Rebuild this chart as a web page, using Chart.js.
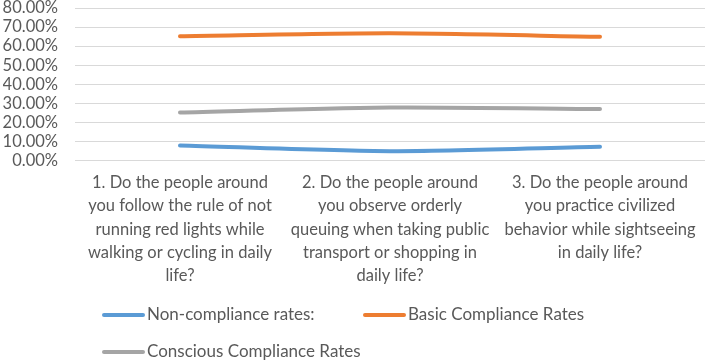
<!DOCTYPE html>
<html>
<head>
<meta charset="utf-8">
<script src="https://cdn.jsdelivr.net/npm/chart.js@4"></script>
<style>
  body { margin: 0; background: #fff; }
  #wrap { width: 709px; height: 362px; position: relative; }
</style>
</head>
<body>
<div id="wrap"><canvas id="chart"></canvas></div>
<script>
// Category labels, one line per array entry
const categories = [
    ["1. Do the people around", "you follow the rule of not", "running red lights while", "walking or cycling in daily", "life?"],
    ["2. Do the people around", "you observe orderly", "queuing when taking public", "transport or shopping in", "daily life?"],
    ["3. Do the people around", "you practice civilized", "behavior while sightseeing", "in daily life?"]
];

// Series values (percent)
const seriesNames = ["Non-compliance rates:", "Basic Compliance Rates", "Conscious Compliance Rates"];
const nonCompliance = [7.9, 4.9, 7.2];
const basicCompliance = [65.2, 66.7, 64.9];
const consciousCompliance = [25.2, 27.8, 27.0];

// Y axis ticks
const yTicks = [0, 10, 20, 30, 40, 50, 60, 70, 80];

const textColor = "#595959";
const fontFamily = "Lato, 'Open Sans', sans-serif";

// Draws the legend in two rows like the original spreadsheet chart
const legendPlugin = {
    id: "sheetLegend",
    afterDraw(chart) {
        const ctx = chart.ctx;
        const slots = [[102, 315], [363, 315], [102, 352]];
        ctx.save();
        ctx.font = "17px " + fontFamily;
        ctx.textBaseline = "middle";
        chart.data.datasets.forEach(function (ds, i) {
            const x = slots[i][0];
            const y = slots[i][1];
            ctx.strokeStyle = ds.borderColor;
            ctx.lineWidth = 4;
            ctx.lineCap = "round";
            ctx.beginPath();
            ctx.moveTo(x + 2, y);
            ctx.lineTo(x + 41, y);
            ctx.stroke();
            ctx.fillStyle = textColor;
            ctx.fillText(ds.label, x + 45, y);
        });
        ctx.restore();
    }
};

function make_dataset(label, values, color) {
    return {
        label: label,
        data: values,
        borderColor: color,
        backgroundColor: color,
        borderWidth: 4,
        borderCapStyle: "round",
        pointRadius: 0,
        tension: 0.25,
        fill: false
    };
}

new Chart(document.getElementById("chart"), {
    type: "line",
    data: {
        labels: categories,
        datasets: [
            make_dataset(seriesNames[0], nonCompliance, "#5B9BD5"),
            make_dataset(seriesNames[1], basicCompliance, "#ED7D31"),
            make_dataset(seriesNames[2], consciousCompliance, "#A5A5A5")
        ]
    },
    options: {
        responsive: true,
        maintainAspectRatio: false,
        animation: false,
        layout: {
            padding: { left: 3, right: 4, top: 0, bottom: 64 }
        },
        plugins: {
            legend: { display: false },
            tooltip: { enabled: false }
        },
        scales: {
            x: {
                offset: true,
                afterFit: function (axis) {
                    axis.paddingLeft = 0;
                    axis.paddingRight = 0;
                },
                grid: { display: false, drawTicks: false },
                border: { display: false },
                ticks: {
                    color: textColor,
                    font: { family: fontFamily, size: 16.5, lineHeight: 1.4 },
                    maxRotation: 0,
                    minRotation: 0,
                    autoSkip: false,
                    padding: 11
                }
            },
            y: {
                min: yTicks[0],
                max: yTicks[yTicks.length - 1],
                afterBuildTicks: function (axis) {
                    axis.ticks = yTicks.map(function (v) { return { value: v }; });
                },
                afterFit: function (axis) {
                    axis.width = 72;
                    axis.paddingTop = 8;
                    axis.paddingBottom = 8;
                },
                grid: { color: "#D9D9D9", lineWidth: 1, drawTicks: false },
                border: { display: false },
                ticks: {
                    color: textColor,
                    font: { family: fontFamily, size: 16.5, lineHeight: 1.1 },
                    autoSkip: false,
                    padding: 17,
                    callback: function (v) { return v.toFixed(2) + "%"; }
                }
            }
        }
    },
    plugins: [legendPlugin]
});
</script>
</body>
</html>
